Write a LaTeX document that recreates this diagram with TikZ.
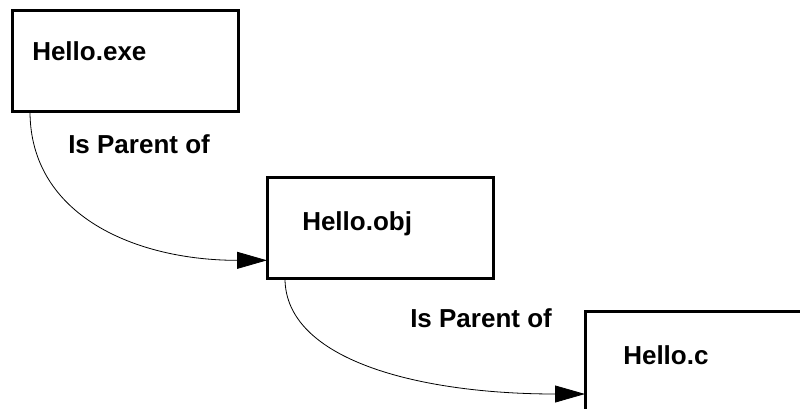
\documentclass[tikz,border=0pt]{standalone}
\usepackage{fontspec}
\setmainfont{Liberation Sans}
\usetikzlibrary{arrows.meta,calc}

\begin{document}
\begin{tikzpicture}[x=0.75pt,y=-0.75pt,
    filebox/.style={draw,line width=2.25pt,inner sep=0pt,outer sep=0pt,anchor=north west,minimum width=170pt,minimum height=76pt},
    fname/.style={font=\bfseries\fontsize{19.5}{23}\selectfont,inner sep=0pt,anchor=base west},
    parentof/.style={-{Triangle[length=22.5pt,width=12.75pt]},line width=0.6pt}]
    \useasboundingbox (0,0) rectangle (800,408);
    \clip (0,0) rectangle (800,408);

    %Files
    \node[filebox] (exe) at (12,10) {};
    \node[fname] (exetxt) at ($(exe.north west)+(20,50)$) {Hello.exe};
    \node[filebox] (obj) at (267,177) {};
    \node[fname] (objtxt) at ($(obj.north west)+(35,53)$) {Hello.obj};
    \node[filebox,minimum width=190pt,minimum height=100pt] (src) at (585,311) {};
    \node[fname] (srctxt) at ($(src.north west)+(38,53)$) {Hello.c};

    %Is Parent of
    \draw[parentof] ($(exe.south west)+(18,0)$) .. controls +(0,105) and +(-130,0) .. ($(obj.south west)+(0,-18)$);
    \node[fname] (par1) at (68,153) {Is Parent of};
    \draw[parentof] ($(obj.south west)+(18,0)$) .. controls +(0,82) and +(-165,0) .. ($(src.north west)+(0,83)$);
    \node[fname] (par2) at (410,327) {Is Parent of};
\end{tikzpicture}
\end{document}
